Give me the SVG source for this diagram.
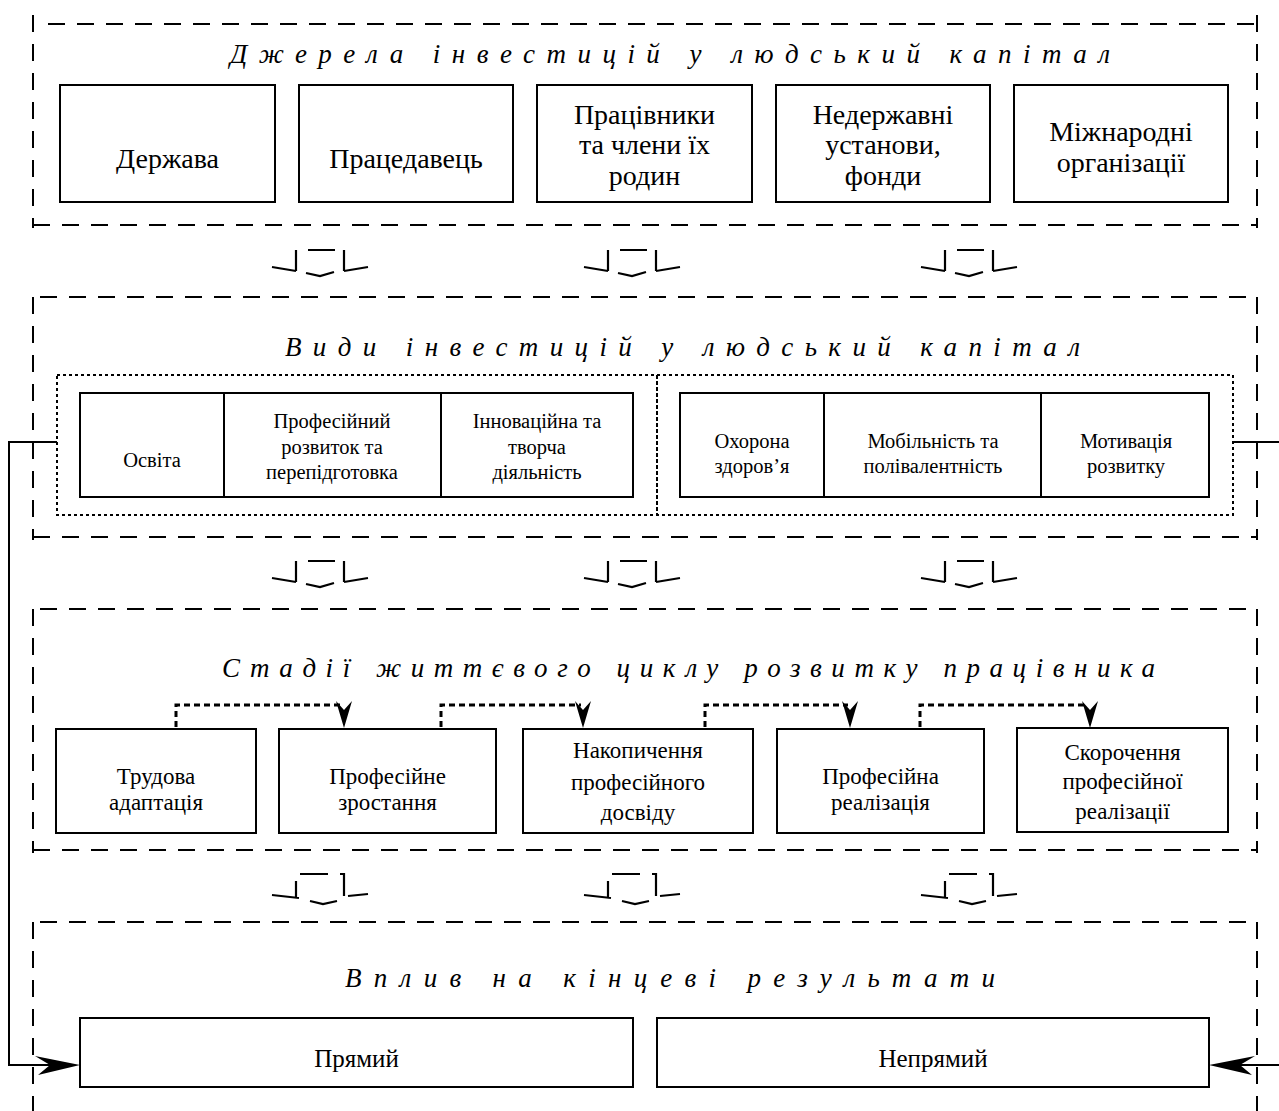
<svg xmlns="http://www.w3.org/2000/svg" width="1279" height="1111" viewBox="0 0 1279 1111">
<style>
.sec{fill:none;stroke:#000;stroke-width:2;stroke-dasharray:17 12}
.box{fill:#fff;stroke:#000;stroke-width:2}
.dot{fill:none;stroke:#000;stroke-width:2;stroke-dasharray:3 3}
.ln{fill:none;stroke:#000;stroke-width:2}
.arr{fill:none;stroke:#000;stroke-width:2.2}
.dar{fill:none;stroke:#000;stroke-width:3;stroke-dasharray:6 4}
.title{font-family:"Liberation Serif","Times New Roman","DejaVu Serif",serif;font-style:italic;font-size:27px;fill:#000}
.t1{font-family:"Liberation Serif","Times New Roman","DejaVu Serif",serif;font-size:28px;text-anchor:middle;fill:#000}
.t2{font-family:"Liberation Serif","Times New Roman","DejaVu Serif",serif;font-size:20.5px;text-anchor:middle;fill:#000}
.t3{font-family:"Liberation Serif","Times New Roman","DejaVu Serif",serif;font-size:23px;text-anchor:middle;fill:#000}
.t4{font-family:"Liberation Serif","Times New Roman","DejaVu Serif",serif;font-size:25px;text-anchor:middle;fill:#000}
</style>
<rect width="1279" height="1111" fill="#fff"/>

<g id="section1">
<path class="sec" d="M33,15 V228 M33,225 H1257 M1257,15 V228 M48,24 H1257"/>
<text class="title" x="230" y="63" textLength="880" lengthAdjust="spacing">Джерела інвестицій у людський капітал</text>
</g>
<g id="n-derzhava"><rect class="box" x="60" y="85" width="215" height="117"/><text class="t1" x="167.5" y="168">Держава</text></g>
<g id="n-pratsedavets"><rect class="box" x="299" y="85" width="214" height="117"/><text class="t1" x="406" y="168">Працедавець</text></g>
<g id="n-pratsivnyky"><rect class="box" x="537" y="85" width="215" height="117"/><text class="t1" x="644.5" y="124">Працівники</text><text class="t1" x="644.5" y="154">та члени їх</text><text class="t1" x="644.5" y="185">родин</text></g>
<g id="n-nederzhavni"><rect class="box" x="776" y="85" width="214" height="117"/><text class="t1" x="883" y="124">Недержавні</text><text class="t1" x="883" y="154">установи,</text><text class="t1" x="883" y="185">фонди</text></g>
<g id="n-mizhnarodni"><rect class="box" x="1014" y="85" width="214" height="117"/><text class="t1" x="1121" y="141">Міжнародні</text><text class="t1" x="1121" y="172">організації</text></g>

<g id="section2">
<path class="sec" d="M33,297 V540 M33,537 H1257 M1257,297 V540 M40,297 H1257"/>
<text class="title" x="285" y="356" textLength="795" lengthAdjust="spacing">Види інвестицій у людський капітал</text>
<rect class="dot" x="57" y="375" width="600" height="140"/>
<rect class="dot" x="657" y="375" width="576" height="140"/>
</g>
<g id="n-osvita"><rect class="box" x="80" y="393" width="144" height="104"/><text class="t2" x="152" y="467">Освіта</text></g>
<g id="n-profrozvytok"><rect class="box" x="224" y="393" width="217" height="104"/><text class="t2" x="332" y="428">Професійний</text><text class="t2" x="332" y="454">розвиток та</text><text class="t2" x="332" y="479">перепідготовка</text></g>
<g id="n-innovatsiina"><rect class="box" x="441" y="393" width="192" height="104"/><text class="t2" x="537" y="428">Інноваційна та</text><text class="t2" x="537" y="454">творча</text><text class="t2" x="537" y="479">діяльність</text></g>
<g id="n-okhorona"><rect class="box" x="680" y="393" width="144" height="104"/><text class="t2" x="752" y="448">Охорона</text><text class="t2" x="752" y="473">здоров’я</text></g>
<g id="n-mobilnist"><rect class="box" x="824" y="393" width="217" height="104"/><text class="t2" x="933" y="448">Мобільність та</text><text class="t2" x="933" y="473">полівалентність</text></g>
<g id="n-motyvatsiia"><rect class="box" x="1041" y="393" width="168" height="104"/><text class="t2" x="1126" y="448">Мотивація</text><text class="t2" x="1126" y="473">розвитку</text></g>

<g id="section3">
<path class="sec" d="M33,609 V853 M33,850 H1257 M1257,609 V853 M40,609 H1257"/>
<text class="title" x="222" y="677" textLength="933" lengthAdjust="spacing">Стадії життєвого циклу розвитку працівника</text>
</g>
<g id="n-adaptatsiia"><rect class="box" x="56" y="729" width="200" height="104"/><text class="t3" x="156" y="784">Трудова</text><text class="t3" x="156" y="810">адаптація</text></g>
<g id="n-zrostannia"><rect class="box" x="279" y="729" width="217" height="104"/><text class="t3" x="387.5" y="784">Професійне</text><text class="t3" x="387.5" y="810">зростання</text></g>
<g id="n-nakopychennia"><rect class="box" x="523" y="729" width="230" height="104"/><text class="t3" x="638" y="758">Накопичення</text><text class="t3" x="638" y="790">професійного</text><text class="t3" x="638" y="820">досвіду</text></g>
<g id="n-realizatsiia"><rect class="box" x="777" y="729" width="207" height="104"/><text class="t3" x="880.5" y="784">Професійна</text><text class="t3" x="880.5" y="810">реалізація</text></g>
<g id="n-skorochennia"><rect class="box" x="1017" y="728" width="211" height="104"/><text class="t3" x="1122.5" y="760">Скорочення</text><text class="t3" x="1122.5" y="789">професійної</text><text class="t3" x="1122.5" y="819">реалізації</text></g>

<g id="section4">
<path class="sec" d="M33,922 V1111 M1257,922 V1111 M40,922 H1257"/>
<text class="title" x="345" y="987" textLength="650" lengthAdjust="spacing">Вплив на кінцеві результати</text>
</g>
<g id="n-priamyi"><rect class="box" x="80" y="1018" width="553" height="69"/><text class="t4" x="356.5" y="1067">Прямий</text></g>
<g id="n-nepriamyi"><rect class="box" x="657" y="1018" width="552" height="69"/><text class="t4" x="933" y="1067">Непрямий</text></g>

<g id="connectors">
<g id="barrow" class="arr">
<path d="M272,267 L296,271 M296,250 V271 M308,250 H335 M306,273 L320,276 L334,272 M344,250 V271 M344,271 L368,267"/>
</g>
<use href="#barrow" x="312"/>
<use href="#barrow" x="649"/>
<use href="#barrow" y="311"/>
<use href="#barrow" x="312" y="311"/>
<use href="#barrow" x="649" y="311"/>
<g id="barrow3" class="arr">
<path d="M272,895 L299,898 M296,881 V897 M300,874 H328 M340,874 H344 V896 M348,896 L368,894 M310,901 L323,904 L337,901"/>
</g>
<use href="#barrow3" x="312"/>
<use href="#barrow3" x="649"/>
<path class="dar" d="M176,727 V705 H342"/>
<path d="M344,728 L336,701 L344,710 L352,701 Z" fill="#000"/>
<path class="dar" d="M441,727 V705 H581"/>
<path d="M583,728 L575,701 L583,710 L591,701 Z" fill="#000"/>
<path class="dar" d="M705,727 V705 H848"/>
<path d="M850,728 L842,701 L850,710 L858,701 Z" fill="#000"/>
<path class="dar" d="M920,727 V705 H1088"/>
<path d="M1090,728 L1082,701 L1090,710 L1098,701 Z" fill="#000"/>
<path class="ln" d="M57,442 H9 V1065 H50"/>
<path d="M80,1065 L35,1056 L50,1065 L38,1075 Z" fill="#000"/>
<path class="ln" d="M1233,442 H1290 V1065 H1240"/>
<path d="M1209,1065 L1255,1056 L1240,1065 L1252,1075 Z" fill="#000"/>
</g>
</svg>
